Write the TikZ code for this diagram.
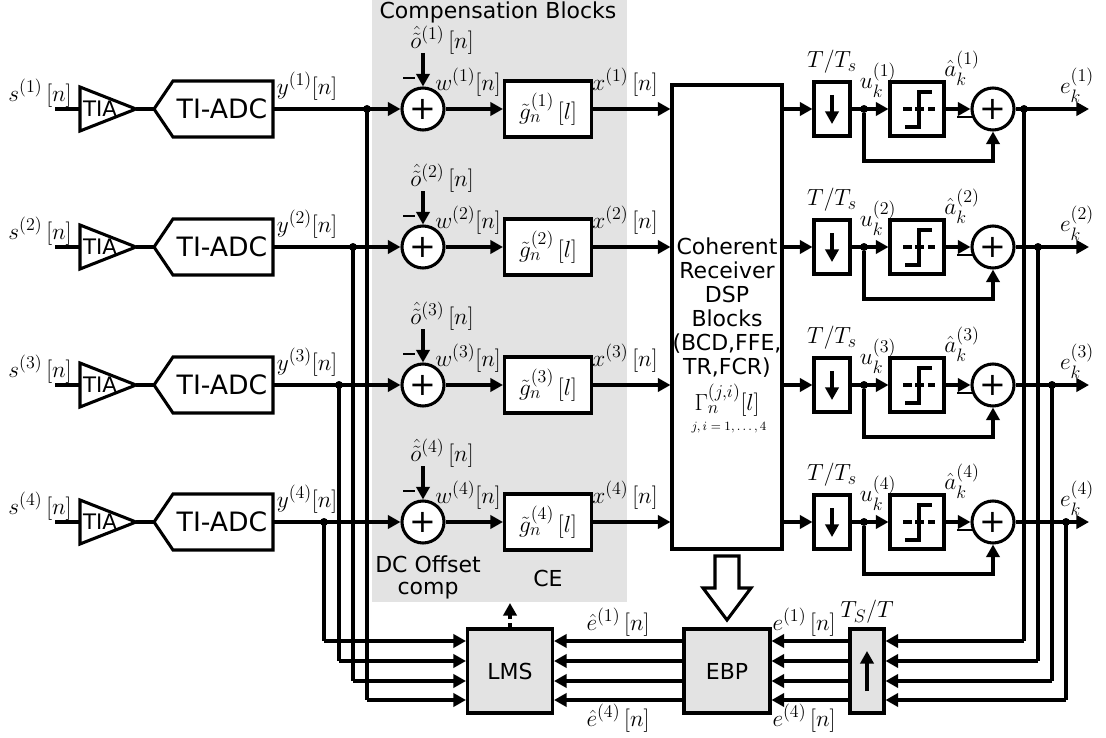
\documentclass[tikz,border=0pt]{standalone}
\usepackage{fix-cm}
\usepackage{amsmath}
\usepackage{fontspec}
\setmainfont{DejaVu Sans}
\usetikzlibrary{arrows.meta,calc}
\definecolor{bgrey}{HTML}{E3E3E3}
\DeclareMathSizes{17.5}{17.5}{13.5}{10}
\newcommand{\mathsz}{\fontsize{17.5}{20}\selectfont}
\tikzset{
  x=0.75pt,y=-0.75pt,
  wire/.style={line width=2.3pt},
  arr/.style={wire,-{Triangle[length=9.5pt,width=10pt]}},
  sized/.style 2 args={minimum width=#1*0.75pt,minimum height=#2*0.75pt,inner sep=0pt},
  block/.style={draw,line width=2.3pt,rectangle},
  whiteblock/.style={block,fill=white},
  greyblock/.style={block,fill=bgrey},
  sumnode/.style={circle,draw,line width=2.3pt,fill=white,minimum size=42*0.75pt,inner sep=0pt,font=\fontsize{24}{24}\selectfont},
  dot/.style={circle,fill=black,minimum size=8*0.75pt,inner sep=0pt},
  lbl/.style={inner sep=0pt,font=\mathsz},
  txtA/.style={inner sep=0pt,font=\fontsize{16.5}{18}\selectfont},
}
\begin{document}
\begin{tikzpicture}
\useasboundingbox (0,0) rectangle (1106,738);
\node[fill=bgrey,sized={255}{602},anchor=north west] (bg) at (372,0) {};
\node[txtA] (title) at (498,12) {Compensation Blocks};
\node[whiteblock,sized={110}{464}] (dsp) at (727,317) {};
\node[inner sep=0pt,align=center,font=\fontsize{16.5}{18}\selectfont] (dsptxt) at (727,308) {Coherent\\Receiver\\DSP\\Blocks\\(BCD,FFE,\\TR,FCR)};
\node[lbl] (gam) at (727,400) {$\Gamma_n^{(j,i)}[l]$};
\node[inner sep=0pt,font=\fontsize{9.5}{11}\selectfont] (gamsub) at (729,428) {$j,i=1,\ldots,4$};

\node[greyblock,sized={85}{84}] (lms) at (510,671) {\fontsize{16.5}{18}\selectfont LMS};
\node[greyblock,sized={86}{84}] (ebp) at (727,671) {\fontsize{16.5}{18}\selectfont EBP};
\node[greyblock,sized={34}{84}] (up) at (867,671) {};
\coordinate (upb) at (867,691); \coordinate (upt) at (867,651);
\draw[arr] (upb) -- (upt);

\foreach \i/\y/\vl/\vr/\bl/\br in {1/109/367/1024/700/641,2/247/353/1038/681/661,3/385/339/1052/661/681,4/522/324/1066/641/700}{
  % input
  \coordinate (in\i) at (55,\y);
  \coordinate (tiaL\i) at (80,\y);
  \coordinate (tiaR\i) at (136,\y);
  \draw[wire,line join=miter] (80,\y-22) -- (tiaR\i) -- (80,\y+22) -- cycle;
  \node[inner sep=0pt,font=\fontsize{16}{18}\selectfont] (tia\i) at (100,\y) {TIA};
  \draw[wire] (in\i) -- (tiaL\i);
  \coordinate (adcT\i) at (154,\y);
  \coordinate (adcR\i) at (273,\y);
  \draw[wire] (tiaR\i) -- (adcT\i);
  \draw[wire] (adcT\i) -- (173,\y-28) -- (273,\y-28) -- (273,\y+28) -- (173,\y+28) -- cycle;
  \node[inner sep=0pt,font=\fontsize{20}{22}\selectfont] (adc\i) at (222,\y) {TI-ADC};
  \node[lbl] (s\i) at (40,\y-16) {$s^{(\i)}\,[n]$};
  \node[lbl] (yl\i) at (307,\y-23) {$y^{(\i)}[n]$};
  % compensation
  \node[sumnode] (sa\i) at (423,\y) {+};
  \node[dot] (dl\i) at (\vl,\y) {};
  \draw[arr] (adcR\i) -- (sa\i);
  \node[lbl] (o\i) at (442,\y-69) {$\hat{\tilde{o}}^{(\i)}\,[n]$};
  \coordinate (ot\i) at (423,\y-56);
  \draw[arr] (ot\i) -- (sa\i);
  \coordinate (ma\i) at (403,\y-31); \coordinate (mb\i) at (415,\y-31);
  \draw[line width=1pt] (ma\i) -- (mb\i);
  \node[lbl] (wl\i) at (468,\y-27) {$w^{(\i)}[n]$};
  \node[whiteblock,sized={87}{56}] (g\i) at (548,\y) {\mathsz$\tilde{g}_n^{(\i)}\,[l]$};
  \draw[arr] (sa\i) -- (g\i);
  \node[lbl] (xl\i) at (625,\y-27) {$x^{(\i)}\,[n]$};
  \draw[arr] (g\i) -- (g\i -| dsp.west);
  % downsampling
  \node[whiteblock,sized={36}{54}] (ds\i) at (832,\y) {};
  \coordinate (dst\i) at (832,\y-14); \coordinate (dsb\i) at (832,\y+15);
  \draw[arr] (dst\i) -- (dsb\i);
  \draw[arr] (ds\i -| dsp.east) -- (ds\i);
  \node[lbl] (tt\i) at (832,\y-47) {$T/T_s$};
  \node[dot] (du\i) at (864,\y) {};
  \node[whiteblock,sized={54}{54}] (dec\i) at (917,\y) {};
  \draw[arr] (ds\i) -- (dec\i);
  \node[lbl] (ul\i) at (878,\y-29) {$u_k^{(\i)}$};
  \draw[wire,dash pattern=on 6.7pt off 2.6pt] (903,\y) -- (935,\y);
  \draw[wire] (905,\y+18) -- (919,\y+18) -- (919,\y-17) -- (932,\y-17);
  \node[sumnode] (sb\i) at (993,\y) {+};
  \draw[arr] (dec\i) -- (sb\i);
  \coordinate (mc\i) at (957,\y+8); \coordinate (md\i) at (972,\y+8);
  \draw[line width=1pt] (mc\i) -- (md\i);
  \node[lbl] (al\i) at (962,\y-41) {$\hat{a}_k^{(\i)}$};
  \draw[arr] (du\i) |- (993,\y+52) -- (sb\i);
  \coordinate (eo\i) at (1089,\y);
  \node[dot] (dr\i) at (\vr,\y) {};
  \draw[arr] (sb\i) -- (eo\i);
  \node[lbl] (el\i) at (1077,\y-24) {$e_k^{(\i)}$};
  % feedback
  \draw[wire] (dl\i.center) -- (\vl,\bl);
  \draw[arr] (\vl,\bl) -- (lms.west |- 0,\bl);
  \draw[wire] (dr\i.center) -- (\vr,\br);
  \draw[arr] (\vr,\br) -- (up.east |- 0,\br);
}
\foreach \h in {641,661,681,700}{
  \draw[arr] (up.west |- 0,\h) -- (ebp.east |- 0,\h);
  \draw[arr] (ebp.west |- 0,\h) -- (lms.east |- 0,\h);
}
\coordinate (bgb) at (510,603);
\draw[arr,dash pattern=on 3.5pt off 2.5pt] (lms.north) -- (bgb);
% hollow arrow
\coordinate (hollowTip) at (727,620);
\draw[wire,fill=white,line join=miter] (715,556) -- (739,556) -- (739,588) -- (751,588) -- (hollowTip) -- (703,588) -- (715,588) -- cycle;
\node[inner sep=0pt,align=center,font=\fontsize{16.5}{16.5}\selectfont] (dccomp) at (428,577) {DC Offset\\comp};
\node[txtA] (ce) at (548,578) {CE};
\node[lbl] (eh1) at (618,622) {$\hat{e}^{(1)}\,[n]$};
\node[lbl] (eh4) at (618,718) {$\hat{e}^{(4)}\,[n]$};
\node[lbl] (e1) at (804,622) {$e^{(1)}\,[n]$};
\node[lbl] (e4) at (804,718) {$e^{(4)}\,[n]$};
\node[lbl] (tst) at (867,612) {$T_S/T$};
\end{tikzpicture}
\end{document}
